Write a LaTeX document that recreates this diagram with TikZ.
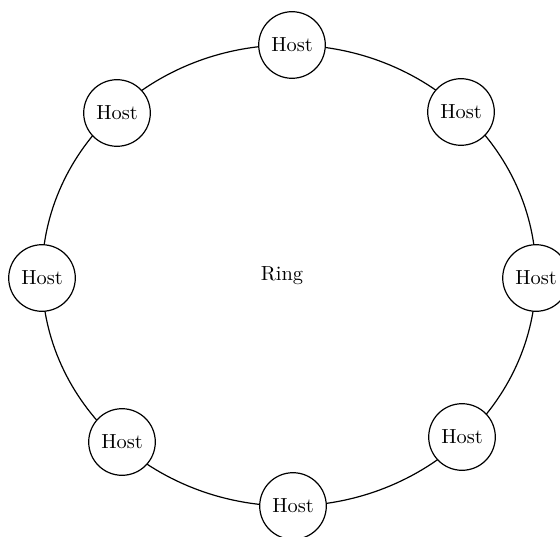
\documentclass[tikz,border=0pt]{standalone}
\begin{document}
\begin{tikzpicture}[x=1pt,y=1pt,
  host/.style={circle, draw, line width=0.6pt, fill=white, minimum size=33.3pt, inner sep=0pt, font=\fontsize{10.2}{12}\selectfont},
  ringline/.style={line width=0.6pt}]
\useasboundingbox (0,0) rectangle (280,268);
\coordinate (c) at (144.5,130.25);
\draw[ringline] (c) ellipse [x radius=123.5, y radius=115.25];
\node[font=\fontsize{10.2}{12}\selectfont] (ring) at (141,130) {Ring};
\foreach \n/\x/\y in {h0/268/129, h1/230.5/212, h2/146/245.5, h3/58.5/211.5, h4/21/129, h5/61/47, h6/146.5/15, h7/231/49.5}{
  \node[host] (\n) at (\x,\y) {Host};
}
\end{tikzpicture}
\end{document}
